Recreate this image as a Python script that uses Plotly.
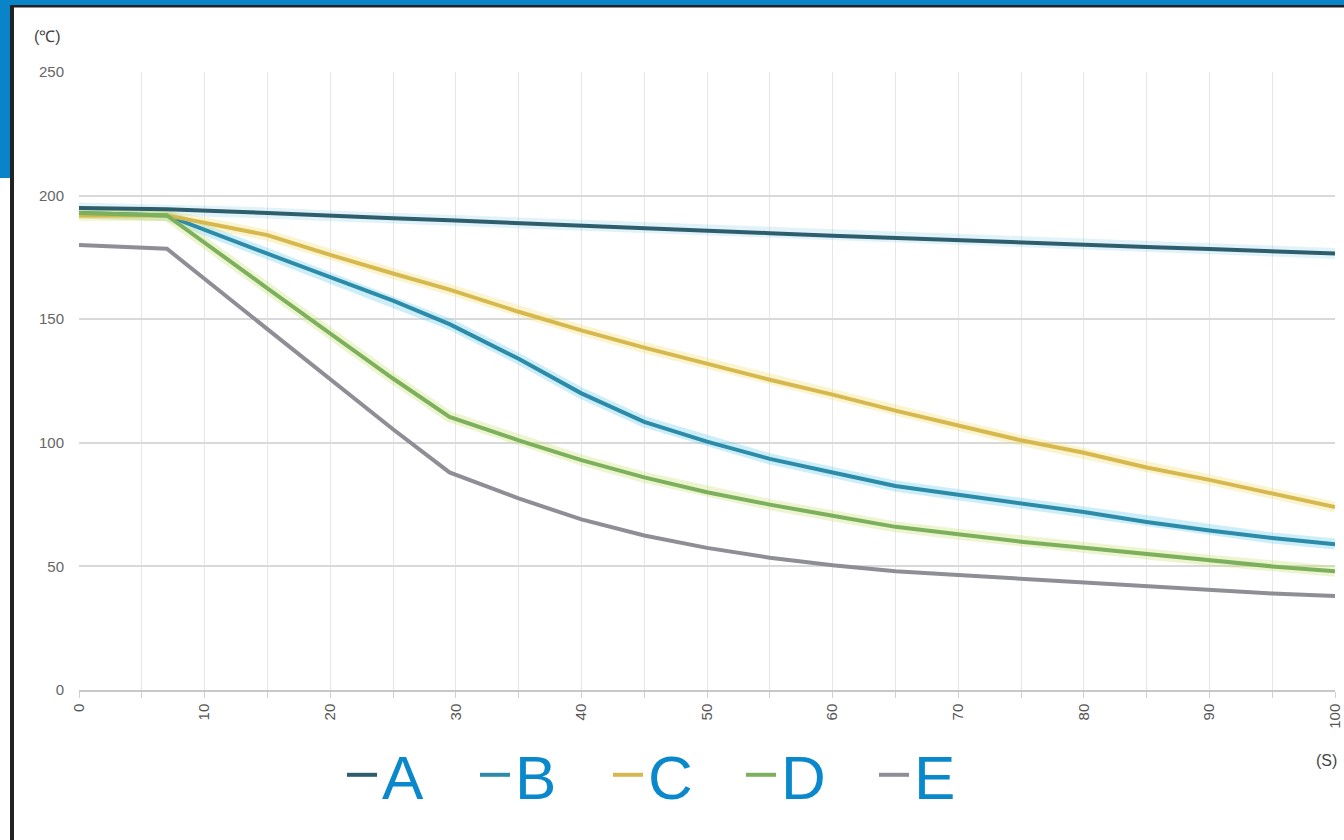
import plotly.graph_objects as go

# ---- data ----
time_s = [0, 7, 15, 20, 25, 29.5, 35, 40, 45, 50, 55, 60, 65, 70, 75, 80, 85, 90, 95, 100]
series_names = ["A", "B", "C", "D", "E"]
temp_A = [195, 194.5, 193, 191.8, 190.8, 190, 188.8, 187.8, 186.8, 185.8, 184.8, 183.8, 182.8, 181.8, 181, 180, 179.2, 178.4, 177.5, 176.6]
temp_B = [193, 192, 176.5, 167, 157.5, 148, 134, 120, 108.5, 100.5, 93.5, 88, 82.5, 79, 75.5, 72, 68, 64.5, 61.5, 59]
temp_C = [192, 192, 184, 176, 168.5, 162, 153, 145.5, 138.5, 132, 125.5, 119.5, 113, 107, 101, 96, 90, 85, 79.5, 74]
temp_D = [193, 192, 162.5, 144, 126, 110.5, 101, 93, 86, 80, 75, 70.5, 66, 63, 60, 57.5, 55, 52.5, 50, 48]
temp_E = [180, 178.5, 146, 125.5, 105.5, 88, 77.5, 69, 62.5, 57.5, 53.5, 50.5, 48, 46.5, 45, 43.5, 42, 40.5, 39, 38]
all_temps = [temp_A, temp_B, temp_C, temp_D, temp_E]

x_ticks = [0, 10, 20, 30, 40, 50, 60, 70, 80, 90, 100]
y_ticks = [0, 50, 100, 150, 200, 250]

line_colors = ["#2E5E6E", "#2C8BA8", "#D6B84E", "#7DB05C", "#8E8E96"]
halo_colors = ["rgba(120,200,225,0.22)", "rgba(110,205,235,0.35)", "rgba(240,225,120,0.35)",
               "rgba(200,225,120,0.35)", "rgba(200,200,205,0.0)"]

fig = go.Figure()
for name, ys, hc in zip(series_names, all_temps, halo_colors):
    fig.add_trace(go.Scatter(x=time_s, y=ys, mode="lines", showlegend=False, hoverinfo="skip",
                             line=dict(color=hc, width=11)))
for name, ys, c in zip(series_names, all_temps, line_colors):
    fig.add_trace(go.Scatter(x=time_s, y=ys, mode="lines", name=name,
                             line=dict(color=c, width=4)))

W, H = 1344, 840
ml, mr, mt, mb = 79, 9, 72, 150
pw, ph = W - ml - mr, H - mt - mb


def px_x(p):
    return (p - ml) / pw


def px_y(p):
    return (H - mb - p) / ph


shapes = [
    # blue band top
    dict(type="rect", xref="paper", yref="paper", x0=px_x(0), x1=px_x(W), y0=px_y(0), y1=px_y(5),
         fillcolor="#0A84C8", line=dict(width=0), layer="above"),
    # blue band left
    dict(type="rect", xref="paper", yref="paper", x0=px_x(0), x1=px_x(10), y0=px_y(0), y1=px_y(178),
         fillcolor="#0A84C8", line=dict(width=0), layer="above"),
    # dark top line
    dict(type="rect", xref="paper", yref="paper", x0=px_x(10), x1=px_x(W), y0=px_y(5), y1=px_y(7.5),
         fillcolor="#222222", line=dict(width=0), layer="above"),
    # dark left line
    dict(type="rect", xref="paper", yref="paper", x0=px_x(10), x1=px_x(14), y0=px_y(5), y1=px_y(H),
         fillcolor="#222222", line=dict(width=0), layer="above"),
]

fig.update_layout(
    width=W, height=H, autosize=False,
    margin=dict(l=ml, r=mr, t=mt, b=mb),
    paper_bgcolor="white", plot_bgcolor="white",
    font=dict(family="Liberation Sans, Arial, sans-serif", color="#595959", size=14),
    shapes=shapes,
    xaxis=dict(range=[0, 100], tickvals=x_ticks, ticktext=[str(v) for v in x_ticks],
               tickangle=-90, showgrid=True, gridcolor="#E6E6E6", gridwidth=1,
               minor=dict(dtick=5, showgrid=True, gridcolor="#E6E6E6", ticks="outside",
                          ticklen=6, tickcolor="#D0D0D0"),
               ticks="outside", ticklen=6, tickcolor="#D0D0D0",
               ticklabeloverflow="allow", automargin=False,
               showline=True, linecolor="#C8C8C8", linewidth=1.5, zeroline=False,
               tickfont=dict(size=15, color="#555555")),
    yaxis=dict(range=[0, 250], tickvals=y_ticks, showgrid=True, gridcolor="#D9D9D9", gridwidth=1.5,
               zeroline=False, showline=False, ticks="", ticklabelstandoff=14, automargin=False,
               tickfont=dict(size=15, color="#666666")),
    legend=dict(orientation="h", x=px_x(342), y=px_y(728), xanchor="left", yanchor="top",
                font=dict(size=62, color="#0A88CC", family="Liberation Sans, Arial, sans-serif"),
                entrywidth=88, entrywidthmode="pixels", itemwidth=30, bgcolor="rgba(0,0,0,0)",
                tracegroupgap=0),
    annotations=[
        dict(text="(℃)", xref="paper", yref="paper", x=px_x(32), y=px_y(36), xanchor="left",
             yanchor="middle", showarrow=False, font=dict(size=16, color="#444444")),
        dict(text="(S)", xref="paper", yref="paper", x=px_x(1339), y=px_y(760), xanchor="right",
             yanchor="middle", showarrow=False, font=dict(size=16, color="#444444")),
    ],
)

fig.write_html("out.html",
               config={"displayModeBar": False, "responsive": False},
               default_width="1344px", default_height="840px",
               post_script="document.body.style.margin='0';document.body.style.overflow='hidden';")
